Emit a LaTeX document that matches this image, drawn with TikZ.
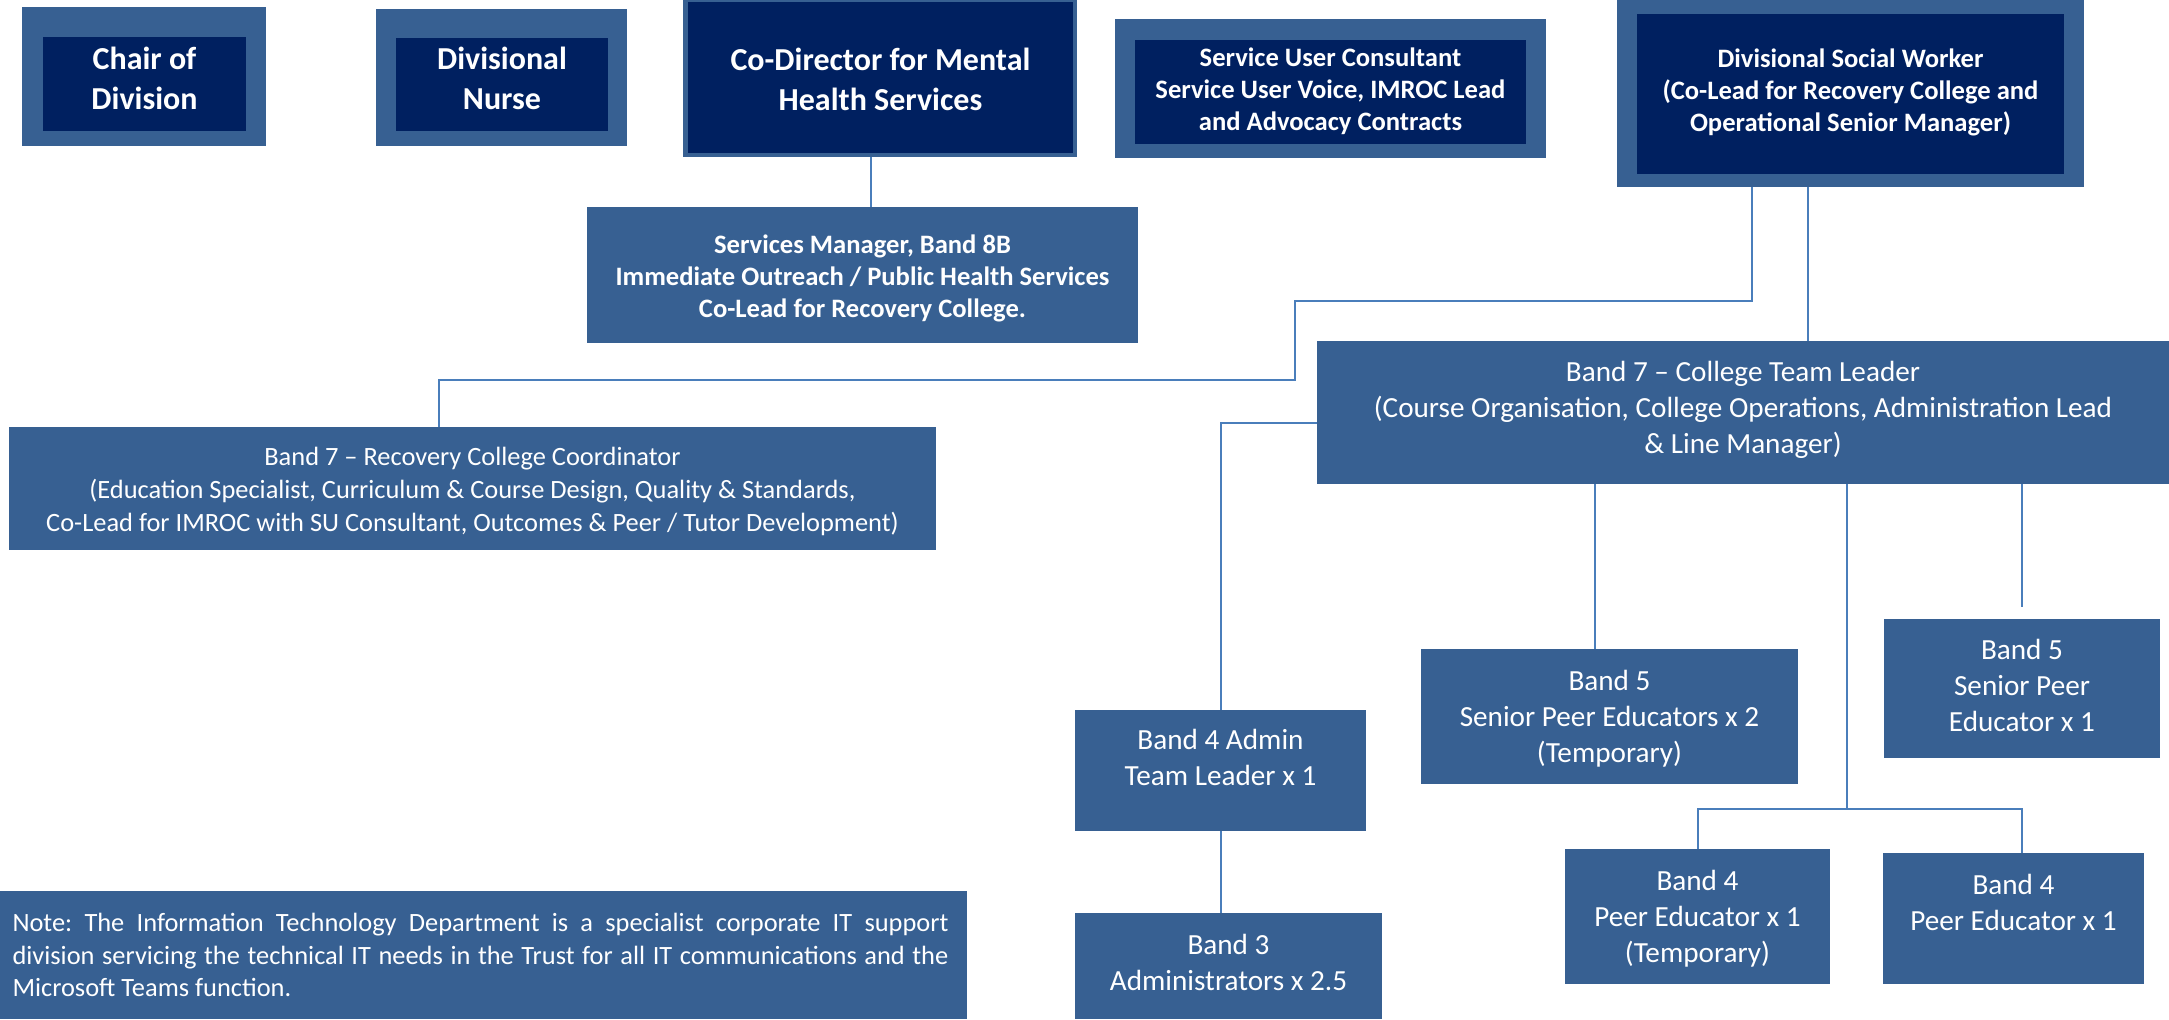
\documentclass[tikz,border=0pt]{standalone}
\usepackage{fontspec}
\setmainfont{Carlito}
\usetikzlibrary{fit}
\definecolor{midblue}{HTML}{376092}
\definecolor{navy}{HTML}{002060}
\definecolor{linkblue}{HTML}{4A7EBB}
\frenchspacing
\tikzset{
 outerbox/.style={fill=midblue, inner sep=0pt},
 innerbox/.style={fill=navy, inner sep=0pt},
 plainbox/.style={fill=midblue, inner sep=0pt},
 lbl/.style={text=white, align=center, inner sep=0pt},
 bigbold/.style={font=\fontsize{16}{20}\selectfont\bfseries},
 smallbold/.style={font=\fontsize{13.3}{16}\selectfont\bfseries},
 regtext/.style={font=\fontsize{14.6}{18}\selectfont},
 smalltext/.style={font=\fontsize{13.2}{16.5}\selectfont},
 conn/.style={draw=linkblue, line width=1pt},
}
\begin{document}
\begin{tikzpicture}[x=0.5pt,y=-0.5pt]
\useasboundingbox (0,0) rectangle (2169,1019);
% top row
\node[outerbox, fit={(22,7) (266,146)}] (chairO) {};
\node[innerbox, fit={(43,37) (246,131)}] (chairI) {};
\node[lbl, bigbold] (chairT) at ([yshift=3pt]chairI.center) {Chair of\\Division};
\node[outerbox, fit={(376,9) (627,146)}] (nurseO) {};
\node[innerbox, fit={(396,38) (608,131)}] (nurseI) {};
\node[lbl, bigbold] (nurseT) at ([yshift=3.2pt]nurseI.center) {Divisional\\Nurse};
\node[outerbox, fit={(683,0) (1077,157)}] (codirO) {};
\node[innerbox, fit={(688,2) (1073,153)}] (codirI) {};
\node[lbl, bigbold] (codirT) at ([yshift=-1pt]codirI.center) {Co-Director for Mental\\Health Services};
\node[outerbox, fit={(1115,19) (1546,158)}] (sucO) {};
\node[innerbox, fit={(1135,40) (1526,144)}] (sucI) {};
\node[lbl, smallbold] (sucT) at ([yshift=0.4pt]sucI.center) {Service User Consultant\\Service User Voice, IMROC Lead\\and Advocacy Contracts};
\node[outerbox, fit={(1617,0) (2084,187)}] (dswO) {};
\node[innerbox, fit={(1637,14) (2064,174)}] (dswI) {};
\node[lbl, smallbold] (dswT) at ([yshift=1pt]dswI.center) {Divisional Social Worker\\(Co-Lead for Recovery College and\\Operational Senior Manager)};
% second level
\node[plainbox, fit={(587,207) (1138,343)}] (sm) {};
\node[lbl, smallbold] (smT) at ([yshift=-1.9pt]sm.center) {Services Manager, Band 8B\\Immediate Outreach / Public Health Services\\Co-Lead for Recovery College.};
\node[plainbox, fit={(9,427) (936,550)}] (coord) {};
\node[lbl, smalltext] (coordT) at ([yshift=-1.6pt]coord.center) {Band 7 -- Recovery College Coordinator\\(Education Specialist, Curriculum \& Course Design, Quality \& Standards,\\Co-Lead for IMROC with SU Consultant, Outcomes \& Peer / Tutor Development)};
\node[plainbox, fit={(1317,341) (2169,484)}] (ctl) {};
\node[lbl, regtext] (ctlT) at ([yshift=1.3pt]ctl.center) {Band 7 -- College Team Leader\\(Course Organisation, College Operations, Administration Lead\\\& Line Manager)};
% lower level
\node[plainbox, fit={(1075,710) (1366,831)}] (adm) {};
\node[lbl, regtext] (admT) at ([yshift=6.6pt]adm.center) {Band 4 Admin\\Team Leader x 1};
\node[plainbox, fit={(1075,913) (1382,1019)}] (b3) {};
\node[lbl, regtext] (b3T) at ([yshift=2pt]b3.center) {Band 3\\Administrators x 2.5};
\node[plainbox, fit={(1421,649) (1798,784)}] (b52) {};
\node[lbl, regtext] (b52T) at ([yshift=-1.3pt]b52.center) {Band 5\\Senior Peer Educators x 2\\(Temporary)};
\node[plainbox, fit={(1884,619) (2160,758)}] (b51) {};
\node[lbl, regtext] (b51T) at ([yshift=1.3pt]b51.center) {Band 5\\Senior Peer\\Educator x 1};
\node[plainbox, fit={(1565,849) (1830,984)}] (b4t) {};
\node[lbl, regtext] (b4tT) at ([yshift=-1.1pt]b4t.center) {Band 4\\Peer Educator x 1\\(Temporary)};
\node[plainbox, fit={(1883,853) (2144,984)}] (b4p) {};
\node[lbl, regtext] (b4pT) at ([yshift=7.8pt]b4p.center) {Band 4\\Peer Educator x 1};
\node[plainbox, fit={(0,891) (967,1019)}] (note) {};
\node[lbl, font=\fontsize{13.2}{16.3}\selectfont, text width=468pt, align=justify] (noteT) at ([xshift=-1.5pt]note.center) {\hyphenpenalty=10000 Note: The Information Technology Department is a specialist corporate IT support\linebreak division servicing the technical IT needs in the Trust for all IT communications and the\linebreak Microsoft Teams function.};
% connectors
\draw[conn] (codirO.south -| 871,0) -- (sm.north -| 871,0);
\draw[conn] (dswO.south -| 1752,0) |- (1295,301) |- (439,380) -- (coord.north -| 439,0);
\draw[conn] (dswO.south -| 1808,0) -- (ctl.north -| 1808,0);
\draw[conn] (ctl.west |- 0,423) -| (adm.north);
\draw[conn] (adm.south) -- (b3.north -| adm.south);
\draw[conn] (ctl.south -| 1595,0) -- (b52.north -| 1595,0);
\draw[conn] (ctl.south -| b51.north) -- ([yshift=6pt]b51.north);
\coordinate (junc) at (1847,809);
\draw[conn] (ctl.south -| junc) -- (junc);
\draw[conn] (b4t.north) |- (junc) -| (b4p.north -| 2022,0);
\end{tikzpicture}
\end{document}
